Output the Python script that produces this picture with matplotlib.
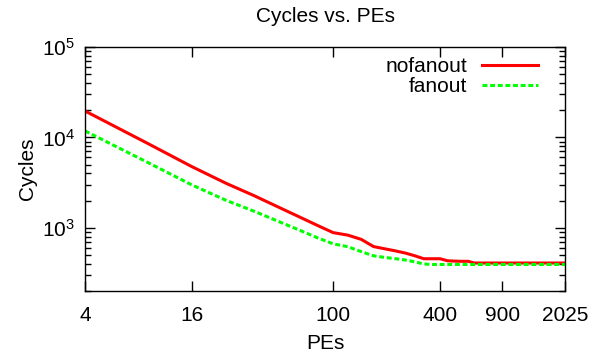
import matplotlib
matplotlib.use("Agg")
import matplotlib.pyplot as plt
from matplotlib.ticker import FixedLocator, LogLocator, NullFormatter

plt.rcParams['font.family'] = ['Liberation Sans', 'DejaVu Sans']

# PEs (square counts) and measured cycles
pes = [4, 9, 16, 25, 36, 49, 64, 81, 100, 121, 144, 169, 196, 225, 256, 289,
       324, 361, 400, 441, 484, 529, 576, 625, 900, 1225, 1600, 2025]
nofanout = [19600, 8600, 4750, 3100, 2260, 1700, 1330, 1070, 885, 830, 745, 620,
            585, 555, 525, 490, 455, 455, 455, 432, 428, 426, 426, 408,
            408, 408, 408, 408]
fanout = [11800, 5300, 2980, 2010, 1520, 1180, 950, 780, 665, 618, 545, 490,
          470, 455, 440, 420, 398, 393, 393, 393, 393, 393, 393, 393,
          393, 393, 393, 393]
xticks = [4, 16, 100, 400, 900, 2025]

fig = plt.figure(figsize=(6.12, 3.58), dpi=100)
ax = fig.add_axes([85/612, 1 - 291/358, 480/612, 244/358])

ax.plot(pes, nofanout, color='#ff0000', lw=2.2, label='nofanout')
ax.plot(pes, fanout, color='#00ff00', lw=2.2, dashes=(1.6, 0.9), label='fanout')

ax.set_xscale('log')
ax.set_yscale('log')
ax.set_xlim(4, 2025)
ax.set_ylim(200, 1e5)
ax.xaxis.set_major_locator(FixedLocator(xticks))
ax.set_xticklabels([str(v) for v in xticks])
ax.xaxis.set_minor_locator(FixedLocator([]))
ax.yaxis.set_major_locator(LogLocator(base=10))
ax.yaxis.set_minor_locator(LogLocator(base=10, subs=range(2, 10)))
ax.yaxis.set_minor_formatter(NullFormatter())

ax.tick_params(which='both', direction='in', top=True, right=True, labelsize=15)
ax.tick_params(axis='x', pad=11)
ax.tick_params(axis='y', pad=7)
ax.tick_params(which='major', length=7, width=1)
ax.tick_params(which='minor', length=4, width=1)
for s in ax.spines.values():
    s.set_linewidth(1)

ax.set_title('Cycles vs. PEs', fontsize=15, pad=18)
ax.set_xlabel('PEs', fontsize=15, labelpad=6)
ax.set_ylabel('Cycles', fontsize=15, labelpad=4)

leg = ax.legend(loc='upper right', bbox_to_anchor=(0.944, 0.958), frameon=False,
                fontsize=15, markerfirst=False, handlelength=2.7, handletextpad=0.7,
                borderpad=0, borderaxespad=0, labelspacing=0.05)
for t in leg.get_texts():
    t.set_ha('right')

fig.savefig('out.png', dpi=100)
